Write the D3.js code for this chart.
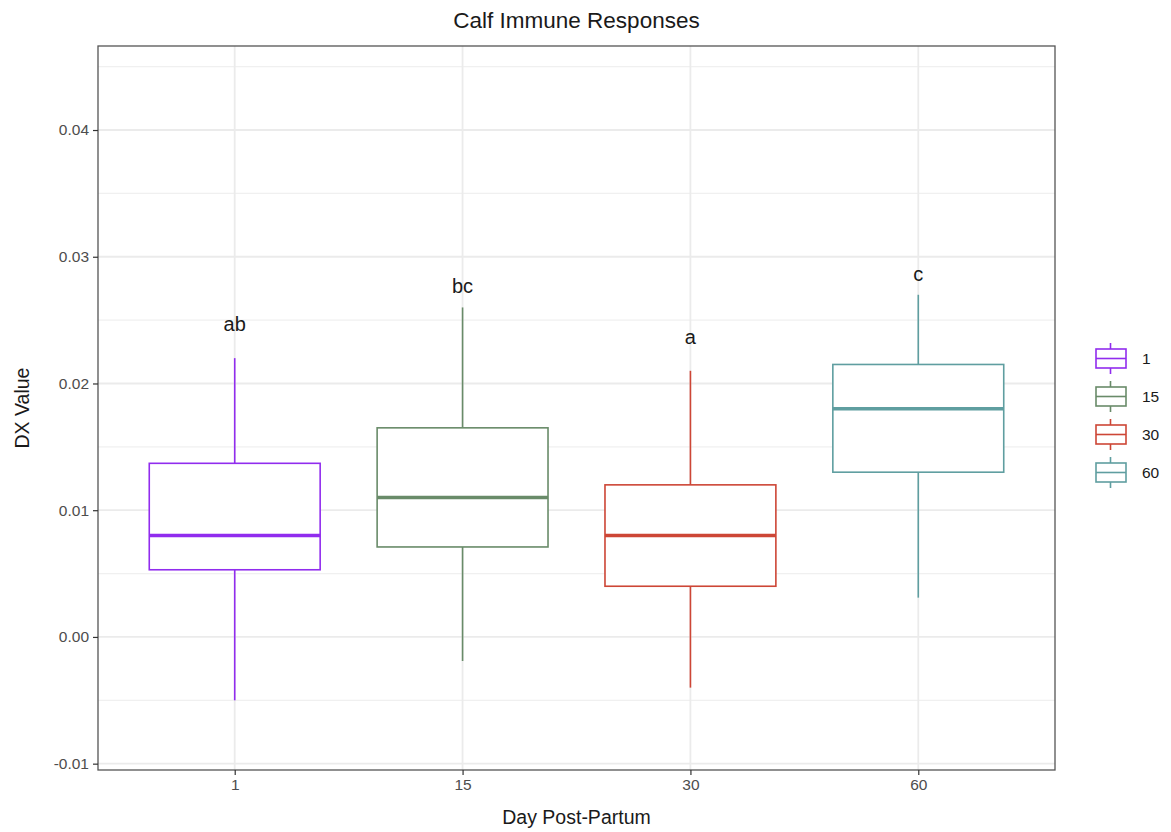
<!DOCTYPE html>
<html>
<head>
<meta charset="utf-8">
<script src="https://cdn.jsdelivr.net/npm/d3@7"></script>
<style>
  body { margin: 0; background: #fff; font-family: "Liberation Sans", Arial, sans-serif; }
  .grid-major { stroke: #ebebeb; stroke-width: 1.8; }
  .grid-minor { stroke: #f0f0f0; stroke-width: 1.2; }
  .axis text { fill: #4d4d4d; font-size: 15.5px; font-family: "Liberation Sans", Arial, sans-serif; }
  .axis line { stroke: #333; stroke-width: 1.2; }
  .axis path { display: none; }
</style>
</head>
<body>
<div id="chart"></div>
<script>
const days = ['1', '15', '30', '60']
const colors = ['#912cee', '#698b69', '#cd4636', '#5f9ea0']
const whiskerLow = [-0.005, -0.0019, -0.004, 0.0031]
const q1 = [0.0053, 0.0071, 0.004, 0.013]
const median = [0.008, 0.011, 0.008, 0.018]
const q3 = [0.0137, 0.0165, 0.012, 0.0215]
const whiskerHigh = [0.022, 0.026, 0.021, 0.027]
const letters = ['ab', 'bc', 'a', 'c']
const letterY = [0.0247, 0.0277, 0.0237, 0.0286]
const yTicks = [-0.01, 0, 0.01, 0.02, 0.03, 0.04]
const yMinor = [-0.005, 0.005, 0.015, 0.025, 0.035, 0.045]

const layout = { width: 1171, height: 832, left: 98, right: 1055, top: 46, bottom: 770 }

const boxes = days.map((d, i) => ({
    day: d, color: colors[i], lo: whiskerLow[i], q1: q1[i], med: median[i],
    q3: q3[i], hi: whiskerHigh[i], letter: letters[i], ly: letterY[i]
}))

const svg = d3.select('#chart').append('svg')
    .attr('width', layout.width)
    .attr('height', layout.height)

// band with 0.6 expansion each side, like ggplot discrete
const xStep = (layout.right - layout.left) / (days.length - 1 + 1.2)
const xScale = d3.scalePoint().domain(days)
    .range([layout.left + 0.6 * xStep, layout.right - 0.6 * xStep])
const yScale = d3.scaleLinear().domain([-0.0105, 0.04663]).range([layout.bottom, layout.top])
const boxW = xStep * 0.75

const g = svg.append('g')

g.selectAll('.grid-minor')
    .data(yMinor)
    .enter().append('line')
    .attr('class', 'grid-minor')
    .attr('x1', layout.left).attr('x2', layout.right)
    .attr('y1', d => yScale(d)).attr('y2', d => yScale(d))

g.selectAll('.grid-major-y')
    .data(yTicks)
    .enter().append('line')
    .attr('class', 'grid-major')
    .attr('x1', layout.left).attr('x2', layout.right)
    .attr('y1', d => yScale(d)).attr('y2', d => yScale(d))

g.selectAll('.grid-major-x')
    .data(days)
    .enter().append('line')
    .attr('class', 'grid-major')
    .attr('x1', d => xScale(d)).attr('x2', d => xScale(d))
    .attr('y1', layout.top).attr('y2', layout.bottom)

// boxes
const bg = g.selectAll('.box')
    .data(boxes)
    .enter().append('g')
    .attr('class', 'box')

bg.append('line')
    .attr('x1', d => xScale(d.day)).attr('x2', d => xScale(d.day))
    .attr('y1', d => yScale(d.hi)).attr('y2', d => yScale(d.q3))
    .attr('stroke', d => d.color).attr('stroke-width', 1.6)
bg.append('line')
    .attr('x1', d => xScale(d.day)).attr('x2', d => xScale(d.day))
    .attr('y1', d => yScale(d.q1)).attr('y2', d => yScale(d.lo))
    .attr('stroke', d => d.color).attr('stroke-width', 1.6)
bg.append('rect')
    .attr('x', d => xScale(d.day) - boxW / 2)
    .attr('width', boxW)
    .attr('y', d => yScale(d.q3))
    .attr('height', d => yScale(d.q1) - yScale(d.q3))
    .attr('fill', '#fff')
    .attr('stroke', d => d.color).attr('stroke-width', 1.6)
bg.append('line')
    .attr('x1', d => xScale(d.day) - boxW / 2).attr('x2', d => xScale(d.day) + boxW / 2)
    .attr('y1', d => yScale(d.med)).attr('y2', d => yScale(d.med))
    .attr('stroke', d => d.color).attr('stroke-width', 3.4)
bg.append('text')
    .attr('x', d => xScale(d.day))
    .attr('y', d => yScale(d.ly))
    .attr('dy', '0.35em')
    .attr('text-anchor', 'middle')
    .attr('font-size', 20)
    .attr('fill', '#1a1a1a')
    .text(d => d.letter)

// panel border
g.append('rect')
    .attr('x', layout.left).attr('y', layout.top)
    .attr('width', layout.right - layout.left).attr('height', layout.bottom - layout.top)
    .attr('fill', 'none').attr('stroke', '#555').attr('stroke-width', 1.3)

// axes
g.append('g')
    .attr('class', 'axis')
    .attr('transform', 'translate(0,' + layout.bottom + ')')
    .call(d3.axisBottom(xScale).tickSizeInner(5).tickSizeOuter(0).tickPadding(4))
g.append('g')
    .attr('class', 'axis')
    .attr('transform', 'translate(' + layout.left + ',0)')
    .call(d3.axisLeft(yScale).tickValues(yTicks).tickSizeInner(5).tickSizeOuter(0).tickPadding(4)
        .tickFormat(d => d === 0 ? '0.00' : d3.format('.2f')(d).replace('−', '-')))

// titles
svg.append('text')
    .attr('x', (layout.left + layout.right) / 2).attr('y', 28)
    .attr('text-anchor', 'middle').attr('font-size', 22.5).attr('fill', '#1a1a1a')
    .text('Calf Immune Responses')
svg.append('text')
    .attr('x', (layout.left + layout.right) / 2).attr('y', 824)
    .attr('text-anchor', 'middle').attr('font-size', 19.5).attr('fill', '#1a1a1a')
    .text('Day Post-Partum')
svg.append('text')
    .attr('transform', 'translate(29,' + (layout.top + layout.bottom) / 2 + ') rotate(-90)')
    .attr('text-anchor', 'middle').attr('font-size', 19.5).attr('fill', '#1a1a1a')
    .text('DX Value')

// legend
const legend = svg.append('g').attr('transform', 'translate(1095,340)')
const key = legend.selectAll('.key')
    .data(boxes)
    .enter().append('g')
    .attr('class', 'key')
    .attr('transform', (d, i) => 'translate(0,' + (i * 38) + ')')
key.append('line')
    .attr('x1', 15.5).attr('x2', 15.5).attr('y1', 3).attr('y2', 34)
    .attr('stroke', d => d.color).attr('stroke-width', 1.6)
key.append('rect')
    .attr('x', 1).attr('y', 9).attr('width', 30).attr('height', 19)
    .attr('fill', '#fff').attr('stroke', d => d.color).attr('stroke-width', 1.6)
key.append('line')
    .attr('x1', 1).attr('x2', 31).attr('y1', 18.5).attr('y2', 18.5)
    .attr('stroke', d => d.color).attr('stroke-width', 1.6)
key.append('text')
    .attr('x', 47).attr('y', 19).attr('dy', '0.35em')
    .attr('font-size', 15.5).attr('fill', '#1a1a1a')
    .text(d => d.day)
</script>
</body>
</html>
